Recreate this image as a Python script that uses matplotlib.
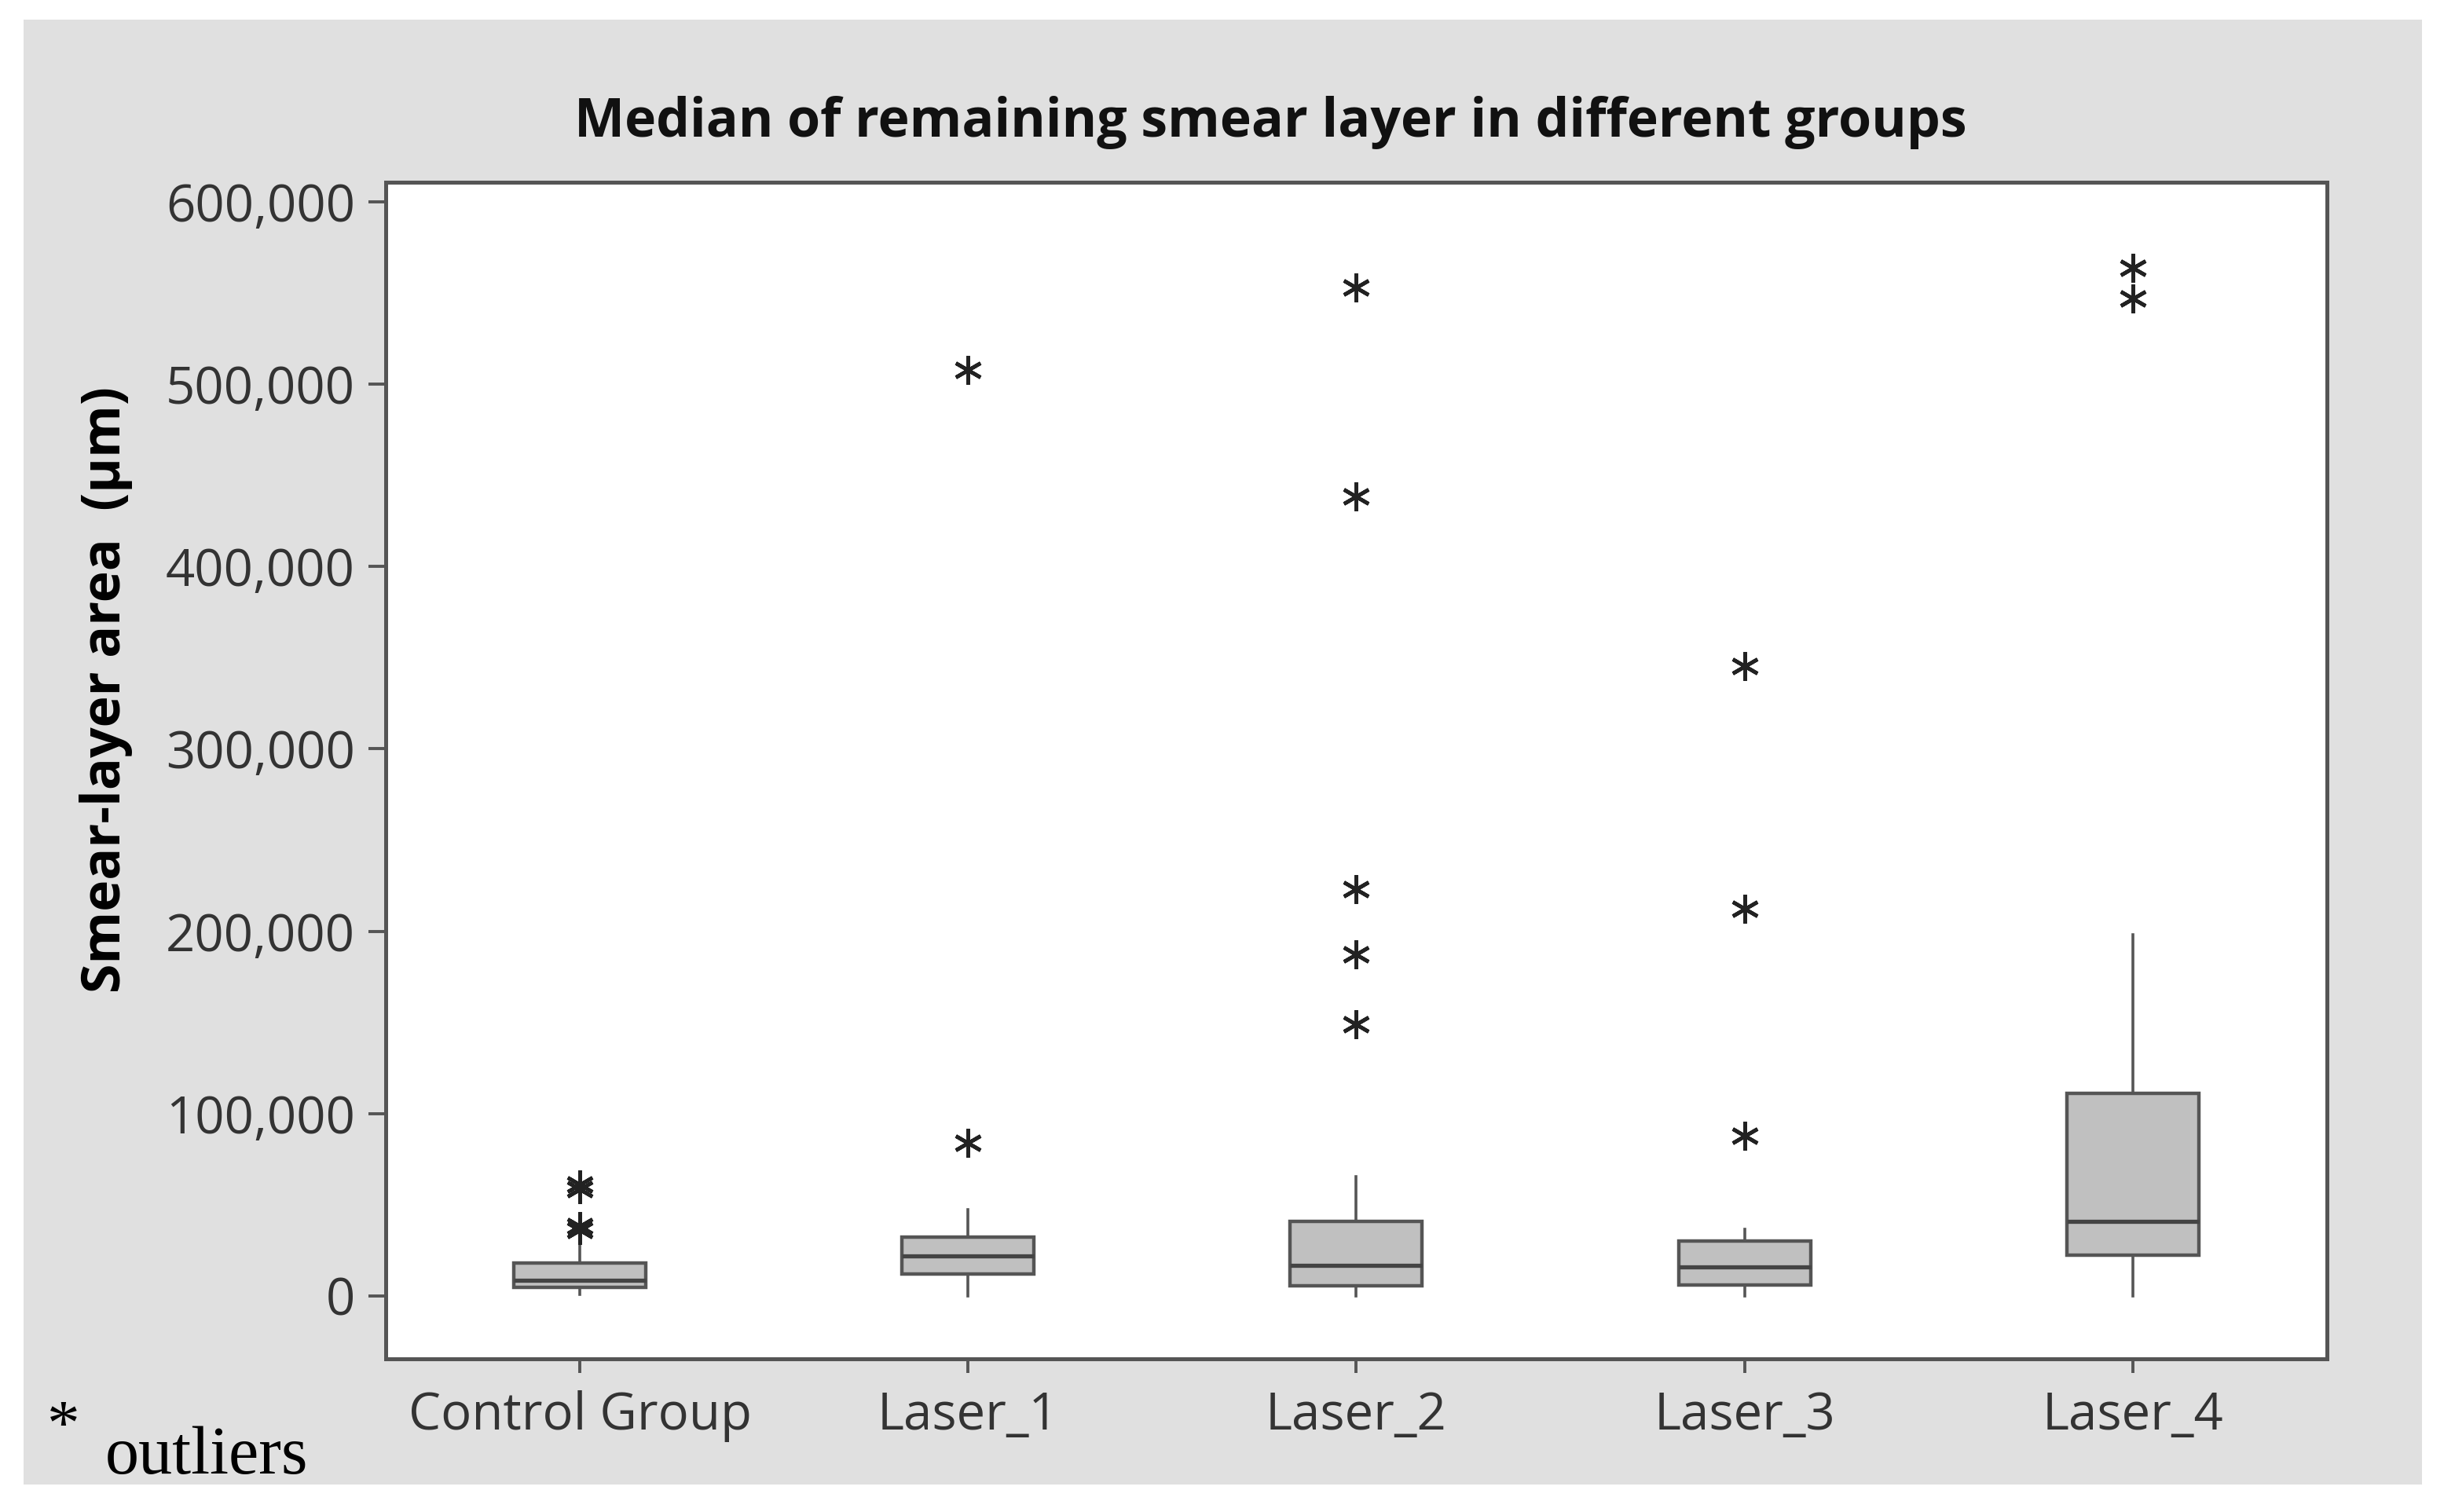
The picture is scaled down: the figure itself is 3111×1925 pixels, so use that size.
import matplotlib
matplotlib.use('Agg')

import matplotlib.pyplot as plt
from matplotlib.patches import Rectangle
from matplotlib.ticker import FuncFormatter

plt.rcParams['font.family'] = ['Open Sans', 'DejaVu Sans']

groups = ['Control Group', 'Laser_1', 'Laser_2', 'Laser_3', 'Laser_4']
q1s = [4600, 12200, 5700, 6000, 22500]
medians = [8600, 21800, 16900, 15900, 40900]
q3s = [18100, 32300, 40900, 30200, 111300]
whislo = [1000, 0, 0, 0, 0]
whishi = [28800, 47400, 65500, 36600, 198000]
outliers = [
    [36000, 38500, 58500, 61000],
    [84000, 508000],
    [149000, 187500, 223000, 438500, 553000],
    [88000, 212500, 345500],
    [547000, 564000],
]
yticks = [0, 100000, 200000, 300000, 400000, 500000, 600000]

stats = []
for i, g in enumerate(groups):
    stats.append({'label': g, 'q1': q1s[i], 'med': medians[i], 'q3': q3s[i],
                  'whislo': whislo[i], 'whishi': whishi[i], 'fliers': outliers[i]})

fig = plt.figure(figsize=(15.555, 9.625), dpi=200, facecolor='white')
fig.patches.append(Rectangle((0.0096, 0.0182), 0.9814, 0.9688, transform=fig.transFigure,
                             facecolor='#e0e0e0', edgecolor='none', zorder=-1))
ax = fig.add_axes([0.1578, 0.1013, 0.9521 - 0.1578, 0.8795 - 0.1013])
ax.set_facecolor('white')

edge = '#555555'
ax.bxp(stats, positions=range(1, 6), widths=0.34, patch_artist=True, showcaps=False,
       boxprops=dict(facecolor='#c0c0c0', edgecolor=edge, linewidth=1.6),
       medianprops=dict(color='#444444', linewidth=1.9),
       whiskerprops=dict(color=edge, linewidth=1.3),
       flierprops=dict(marker=(6, 2, 0), markersize=13, markeredgecolor='#222222',
                       markeredgewidth=1.7, linestyle='none'))

ax.set_xlim(0.5, 5.5)
ax.set_ylim(-34500, 610800)
ax.set_yticks(yticks)
ax.yaxis.set_major_formatter(FuncFormatter(lambda v, p: f'{int(v):,}'))
ax.tick_params(axis='y', length=8, width=1.4, color=edge, labelsize=23.5, labelcolor='#333333', pad=6)
ax.tick_params(axis='x', length=6.5, width=1.4, color=edge, labelsize=23.5, labelcolor='#333333', pad=8)
for s in ax.spines.values():
    s.set_color(edge)
    s.set_linewidth(1.8)

fig.text(0.52, 0.919, 'Median of remaining smear layer in different groups',
         ha='center', va='center', fontsize=24.5, fontweight='bold', color='#111111')
fig.text(0.0435, 0.544, 'Smear-layer area  (µm)', rotation=90, ha='center', va='center',
         fontsize=24.5, fontweight='bold', color='black')
fig.text(0.026, 0.055, '*', fontsize=30, family=['Liberation Serif'], color='black',
         ha='center', va='center')
fig.text(0.043, 0.036, 'outliers', fontsize=31, family=['Liberation Serif'], color='black',
         ha='left', va='center')

fig.savefig('out.png', dpi=200, facecolor=fig.get_facecolor())
